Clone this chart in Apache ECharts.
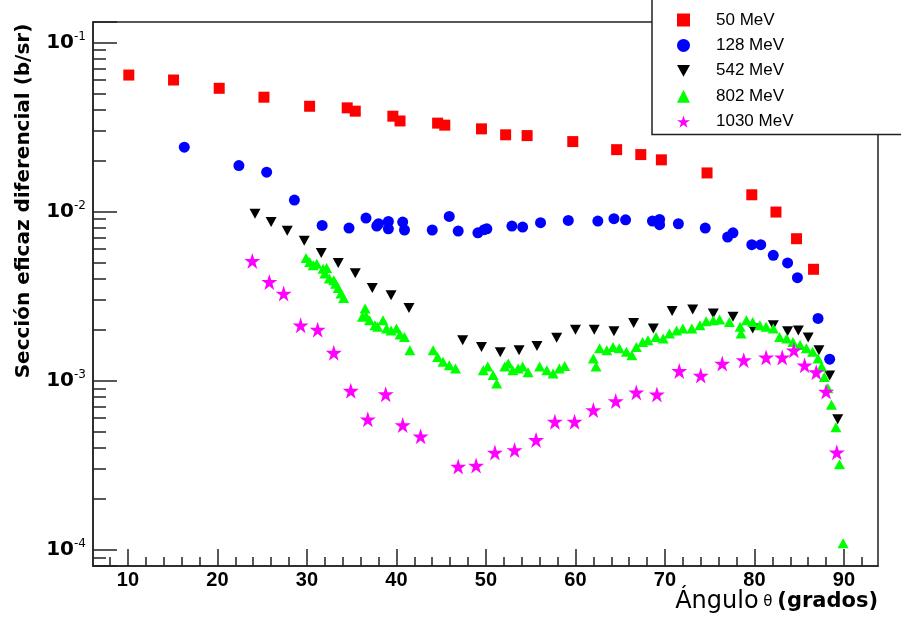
<!DOCTYPE html>
<html>
<head>
<meta charset="utf-8">
<script src="https://cdn.jsdelivr.net/npm/echarts@6/dist/echarts.min.js"></script>
<style>
html, body { margin: 0; padding: 0; background: #fff; }
#chart { width: 901px; height: 621px; }
</style>
</head>
<body>
<div id="chart"></div>
<script>
// 50 MeV
var ang50 = [10.1, 15.1, 20.2, 25.2, 30.3, 34.5, 35.4, 39.6, 40.4, 44.6, 45.4, 49.5, 52.2, 54.6, 59.7, 64.6, 67.3, 69.6, 74.7, 79.7, 82.4, 84.7, 86.6]
var val50 = [0.0641, 0.0599, 0.0535, 0.0474, 0.0419, 0.0410, 0.0392, 0.0366, 0.0343, 0.0333, 0.0324, 0.0308, 0.0284, 0.0281, 0.0259, 0.0232, 0.0217, 0.0202, 0.0169, 0.01255, 0.00992, 0.0069, 0.00455]

// 128 MeV
var ang128 = [16.3, 22.4, 25.5, 28.6, 31.7, 34.7, 36.6, 37.8, 38.0, 39.1, 39.1, 40.7, 40.9, 44.0, 45.9, 46.9, 49.1, 49.8, 50.1, 52.9, 54.1, 56.1, 59.2, 62.5, 64.3, 65.6, 68.6, 69.4, 69.4, 71.5, 74.5, 77.0, 77.6, 79.7, 80.7, 82.1, 83.7, 84.8, 87.1, 88.4]
var val128 = [0.0240, 0.01869, 0.01708, 0.01168, 0.00827, 0.00798, 0.00914, 0.0082, 0.00846, 0.00873, 0.0079, 0.00866, 0.00777, 0.00777, 0.00934, 0.00766, 0.00748, 0.0078, 0.0079, 0.0082, 0.00809, 0.00858, 0.00885, 0.00878, 0.00906, 0.00893, 0.00878, 0.00897, 0.00835, 0.00846, 0.00798, 0.00706, 0.00748, 0.00636, 0.00636, 0.0055, 0.00496, 0.00406, 0.00233, 0.001337]

// 542 MeV
var ang542 = [24.2, 26.0, 27.8, 29.7, 31.6, 33.5, 35.4, 37.3, 39.4, 41.4, 47.4, 49.5, 51.6, 53.7, 55.7, 57.9, 60.0, 62.1, 64.3, 66.5, 68.7, 70.8, 73.1, 75.4, 77.6, 79.8, 82.1, 83.7, 84.9, 86.0, 87.2, 88.4, 89.3]
var val542 = [0.0097, 0.00866, 0.00769, 0.00671, 0.00568, 0.00496, 0.00431, 0.00353, 0.00319, 0.00269, 0.00173, 0.00158, 0.00147, 0.00151, 0.0016, 0.00179, 0.0020, 0.0020, 0.00196, 0.00219, 0.00203, 0.00258, 0.00263, 0.00249, 0.00238, 0.00203, 0.00212, 0.00196, 0.00198, 0.0018, 0.00151, 0.00107, 0.00059]

// 802 MeV
var ang802 = [29.9, 30.3, 30.7, 31.1, 31.8, 32.2, 32.0, 32.5, 33.0, 33.2, 33.5, 33.8, 34.1,
  36.5, 36.2, 36.6, 37.0, 37.6, 37.9, 38.5, 38.9, 39.4, 40.0, 40.4, 40.9, 41.5,
  44.1, 44.6, 45.2, 45.9, 46.6,
  49.7, 50.2, 50.8, 51.2, 52.1, 52.5, 53.0, 53.6, 54.1, 54.7, 56.0, 56.8, 57.5, 58.2, 58.8,
  62.0, 62.3, 62.7, 63.5, 64.2, 64.9, 65.7, 66.3, 66.8, 67.5, 68.1, 69.0, 69.8, 70.5, 71.3, 72.0, 73.0, 73.9, 74.6, 75.4, 76.1, 77.2, 78.4, 78.5, 79.1, 79.8, 80.6, 81.3, 82.1, 82.8, 83.6, 84.3, 85.1, 85.8, 86.5, 87.1, 87.5, 87.8, 88.2, 88.6, 89.1, 89.5, 89.9]
var val802 = [0.00531, 0.00503, 0.0048, 0.00491, 0.00459, 0.00463, 0.00429, 0.00401, 0.00392, 0.00374, 0.00353, 0.00327, 0.00308,
  0.00267, 0.00238, 0.00241, 0.00227, 0.00212, 0.00208, 0.00227, 0.00203, 0.00198, 0.00203, 0.00187, 0.00181, 0.00151,
  0.00151, 0.00138, 0.00129, 0.00123, 0.00118,
  0.00115, 0.00121, 0.00108, 0.00096, 0.00121, 0.00126, 0.00115, 0.00118, 0.00121, 0.00112, 0.00121, 0.00115, 0.0011, 0.00118, 0.00122,
  0.00135, 0.00121, 0.00155, 0.00151, 0.00158, 0.00155, 0.00148, 0.00141, 0.00158, 0.00169, 0.00173, 0.00181, 0.00177, 0.0019, 0.00198, 0.00203, 0.00203, 0.00212, 0.00224, 0.00227, 0.0023, 0.00222, 0.00208, 0.0019, 0.00227, 0.00222, 0.00212, 0.00208, 0.00203, 0.00181, 0.00177, 0.00169, 0.00162, 0.00155, 0.00148, 0.00135, 0.00121, 0.00105, 0.0009, 0.00072, 0.00053, 0.00032, 0.000109]

// 1030 MeV
var ang1030 = [23.9, 25.8, 27.4, 29.3, 31.2, 33.0, 34.9, 36.8, 38.8, 40.7, 42.7, 46.9, 48.9, 51.0, 53.2, 55.6, 57.7, 59.9, 62.0, 64.5, 66.8, 69.1, 71.6, 74.0, 76.4, 78.8, 81.3, 83.1, 84.4, 85.6, 86.9, 88.0, 89.2]
var val1030 = [0.0051, 0.00383, 0.00327, 0.00212, 0.0020, 0.00146, 0.00087, 0.00059, 0.00083, 0.000545, 0.000468, 0.00031, 0.000314, 0.000375, 0.000388, 0.000445, 0.000571, 0.000571, 0.000669, 0.000756, 0.000851, 0.000828, 0.00114, 0.00107, 0.00126, 0.00132, 0.00137, 0.00137, 0.00151, 0.00123, 0.00112, 0.00086, 0.000376]

// ticks
var xMajor = [10, 20, 30, 40, 50, 60, 70, 80, 90]
var xMinor = [8, 12, 14, 16, 18, 22, 24, 26, 28, 32, 34, 36, 38, 42, 44, 46, 48, 52, 54, 56, 58, 62, 64, 66, 68, 72, 74, 76, 78, 82, 84, 86, 88, 92]
var yMantissa = [2, 3, 4, 5, 6, 7, 8, 9]
var yDecades = [-5, -4, -3, -2, -1]

var xMin = 6.1, xMax = 93.8
var yMin = 8e-5, yMax = 0.132

var downTri = 'path://M0,0L10,0L5,9Z'
var star = 'path://M50,0L61.2,34.5L97.6,34.5L68.2,55.9L79.4,90.5L50,69.1L20.6,90.5L31.8,55.9L2.4,34.5L38.8,34.5Z'

function pairs(xs, ys) {
  return xs.map(function (x, i) { return [x, ys[i]] })
}

// minor log ticks on a helper linear axis in log10 space
var yMinorLog = []
yDecades.forEach(function (d) {
  yMantissa.forEach(function (m) {
    var v = Math.log10(m) + d
    if (v > Math.log10(yMin) && v < Math.log10(yMax)) yMinorLog.push(v)
  })
})

var frame = { color: '#222', width: 1.5 }

var chart = echarts.init(document.getElementById('chart'))

var option = {
  animation: false,
  backgroundColor: '#fff',
  grid: {
    left: 93, right: 23, top: 22, bottom: 55,
    show: true, borderColor: '#222', borderWidth: 1.5,
    outerBoundsMode: 'none'
  },
  legend: {
    orient: 'vertical',
    left: 652, top: -5,
    padding: [16, 130, 4, 25],
    itemWidth: 13, itemHeight: 13, itemGap: 7.4,
    backgroundColor: '#fff', borderColor: '#222', borderWidth: 1.5,
    selectedMode: false,
    textStyle: { fontFamily: 'Liberation Sans', fontSize: 17, color: '#000', lineHeight: 18, padding: [0, 0, 0, 21] },
    data: ['50 MeV', '128 MeV', '542 MeV', '802 MeV', '1030 MeV']
  },
  xAxis: [{
    type: 'value', min: xMin, max: xMax, position: 'bottom',
    axisLine: { show: true, lineStyle: frame },
    axisTick: { inside: true, length: 17, customValues: xMajor, lineStyle: frame },
    axisLabel: { customValues: xMajor, fontFamily: 'Liberation Sans', fontWeight: 'bold', fontSize: 20, color: '#000', margin: 4 },
    splitLine: { show: false }
  }, {
    type: 'value', min: xMin, max: xMax, position: 'bottom',
    axisLine: { show: false },
    axisTick: { inside: true, length: 9, customValues: xMinor, lineStyle: frame },
    axisLabel: { show: false },
    splitLine: { show: false }
  }],
  yAxis: [{
    type: 'log', logBase: 10, min: yMin, max: yMax, position: 'left',
    axisLine: { show: true, lineStyle: frame },
    axisTick: { inside: true, length: 24, lineStyle: frame },
    axisLabel: {
      margin: 7,
      formatter: function (v) {
        var l = Math.log10(v), e = Math.round(l)
        if (Math.abs(l - e) > 1e-6) return ''
        return '{b|10}{s|' + e + '}'
      },
      rich: {
        b: { fontFamily: 'DejaVu Sans', fontWeight: 'bold', fontSize: 20, color: '#000', lineHeight: 24 },
        s: { fontFamily: 'DejaVu Sans', fontSize: 12, color: '#000', verticalAlign: 'top', lineHeight: 24 }
      }
    },
    splitLine: { show: false },
    minorTick: { show: false }
  }, {
    type: 'value', min: Math.log10(yMin), max: Math.log10(yMax), position: 'left',
    axisLine: { show: false },
    axisTick: { inside: true, length: 13, customValues: yMinorLog, lineStyle: frame },
    axisLabel: { show: false },
    splitLine: { show: false }
  }],
  graphic: [{
    type: 'text', x: 24, y: 201, rotation: Math.PI / 2,
    style: {
      text: 'Sección eficaz diferencial (b/sr)',
      font: 'bold 20px "DejaVu Sans"', fill: '#000',
      align: 'center', verticalAlign: 'middle', textAlign: 'center', textVerticalAlign: 'middle'
    }
  }, {
    type: 'text', right: 23, top: 590,
    style: {
      text: '{a|Ángulo}{t| θ }{g|(grados)}',
      rich: {
        a: { fontFamily: 'DejaVu Sans', fontSize: 24, fill: '#000' },
        t: { fontFamily: 'DejaVu Sans', fontSize: 15, fill: '#000' },
        g: { fontFamily: 'DejaVu Sans', fontWeight: 'bold', fontSize: 21, fill: '#000' }
      }
    }
  }],
  series: [{
    name: '50 MeV', type: 'scatter', symbol: 'rect', symbolSize: 11,
    itemStyle: { color: '#ff0000', opacity: 1 }, data: pairs(ang50, val50)
  }, {
    name: '128 MeV', type: 'scatter', symbol: 'circle', symbolSize: 11,
    itemStyle: { color: '#0000ff', opacity: 1 }, data: pairs(ang128, val128)
  }, {
    name: '542 MeV', type: 'scatter', symbol: downTri, symbolSize: [11, 10],
    itemStyle: { color: '#000000', opacity: 1 }, data: pairs(ang542, val542)
  }, {
    name: '802 MeV', type: 'scatter', symbol: 'triangle', symbolSize: [11, 10],
    itemStyle: { color: '#00ff00', opacity: 1 }, data: pairs(ang802, val802)
  }, {
    name: '1030 MeV', type: 'scatter', symbol: star, symbolSize: 16,
    itemStyle: { color: '#ff00ff', opacity: 1 }, data: pairs(ang1030, val1030)
  }]
}

chart.setOption(option)
</script>
</body>
</html>
